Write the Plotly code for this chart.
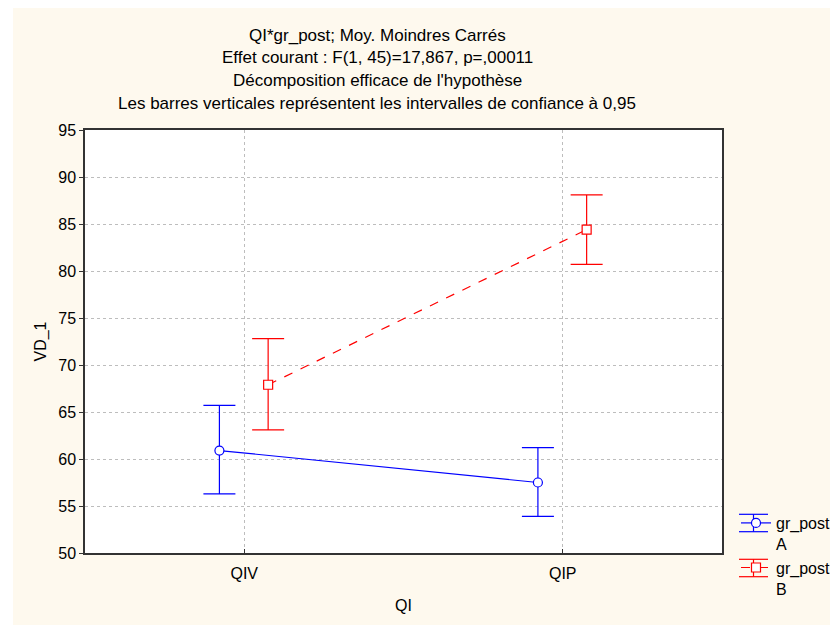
import plotly.graph_objects as go

categories = ["QIV", "QIP"]
cat_pos = [0, 1]
groups = ["gr_post<br>A", "gr_post<br>B"]
means_A = [60.9, 57.5]
upper_A = [65.7, 61.2]
lower_A = [56.3, 53.9]
means_B = [67.9, 84.4]
upper_B = [72.8, 88.1]
lower_B = [63.1, 80.7]
offsets = [-0.078, 0.075]
colors = ["#0000FF", "#FF0000"]
symbols = ["circle", "square"]
dashes = ["solid", "dash"]
y_ticks = [50, 55, 60, 65, 70, 75, 80, 85, 90, 95]
titles = [
    "QI*gr_post; Moy. Moindres Carrés",
    "Effet courant : F(1, 45)=17,867, p=,00011",
    "Décomposition efficace de l'hypothèse",
    "Les barres verticales représentent les intervalles de confiance à 0,95",
]

FONT = "Liberation Sans, Arial, sans-serif"
FS = 16
FT = 17
fig = go.Figure()
series = [(means_A, upper_A, lower_A), (means_B, upper_B, lower_B)]
for i, (m, u, l) in enumerate(series):
    xs = [p + offsets[i] for p in cat_pos]
    fig.add_trace(go.Scatter(
        x=xs, y=m, name=groups[i], mode="lines+markers",
        line=dict(color=colors[i], width=1.2, dash=dashes[i]),
        marker=dict(symbol=symbols[i], size=9, color="white",
                    line=dict(width=1.2, color=colors[i])),
        error_y=dict(type="data", symmetric=False,
                     array=[a - b for a, b in zip(u, m)],
                     arrayminus=[b - c for b, c in zip(m, l)],
                     color=colors[i], thickness=1.2, width=16),
    ))

# plot area in figure pixels (page has an 8px body margin)
L, T, PW, PH = 77, 122, 637, 423
W, H = 838, 625

def py(fig_y):
    return (T + PH - fig_y) / PH

def px(fig_x):
    return (fig_x - L) / PW

annotations = []
for t, yc in zip(titles, [27, 50, 73, 96]):
    annotations.append(dict(text=t, x=px(369), y=py(yc), xref="paper", yref="paper",
                            showarrow=False, xanchor="center", yanchor="middle",
                            font=dict(family=FONT, size=FT, color="black")))

shapes = [
    dict(type="rect", xref="paper", yref="paper", x0=px(5), x1=px(W + 20),
         y0=py(H + 20), y1=py(-1),
         fillcolor="#FEF9EE", line=dict(width=0), layer="below"),
    dict(type="rect", xref="paper", yref="paper", x0=0, x1=1, y0=0, y1=1,
         fillcolor="white", line=dict(width=0), layer="below"),
]
# error-bar caps drawn beside the legend symbols
for i, yc in enumerate([515, 560]):
    for dy in (-8.7, 8.7):
        shapes.append(dict(type="line", xref="paper", yref="paper",
                           x0=px(731), x1=px(760), y0=py(yc + dy), y1=py(yc + dy),
                           line=dict(color=colors[i], width=1.2), layer="above"))
    shapes.append(dict(type="line", xref="paper", yref="paper",
                       x0=px(745.5), x1=px(745.5), y0=py(yc - 8.7), y1=py(yc + 8.7),
                       line=dict(color=colors[i], width=1.2), layer="above"))

fig.update_layout(
    width=W, height=H,
    margin=dict(l=L, r=W - L - PW, t=T, b=H - T - PH, autoexpand=False),
    paper_bgcolor="white", plot_bgcolor="white",
    font=dict(family=FONT, size=FS, color="black"),
    annotations=annotations, shapes=shapes,
    showlegend=True,
    legend=dict(x=px(728), y=py(498), xanchor="left", yanchor="top",
                valign="top", bgcolor="rgba(0,0,0,0)",
                font=dict(size=FS, family=FONT), itemwidth=30),
    xaxis=dict(range=[-0.5, 1.5], tickvals=cat_pos, ticktext=categories,
               showgrid=True, gridcolor="#BDBDBD", griddash="dot", gridwidth=1,
               showline=True, linecolor="#333333", linewidth=1.5, mirror=True,
               ticks="inside", ticklen=4, tickcolor="#333333",
               ticklabelstandoff=5,
               zeroline=False, tickfont=dict(size=FS),
               title=dict(text="QI", font=dict(size=FS), standoff=19)),
    yaxis=dict(range=[50, 95], tickvals=y_ticks,
               showgrid=True, gridcolor="#BDBDBD", griddash="dot", gridwidth=1,
               showline=True, linecolor="#333333", linewidth=1.5, mirror=True,
               ticks="outside", ticklen=4, tickcolor="#333333",
               zeroline=False, tickfont=dict(size=FS),
               title=dict(text="VD_1", font=dict(size=FS), standoff=8)),
)

fig.write_html("out.html")
